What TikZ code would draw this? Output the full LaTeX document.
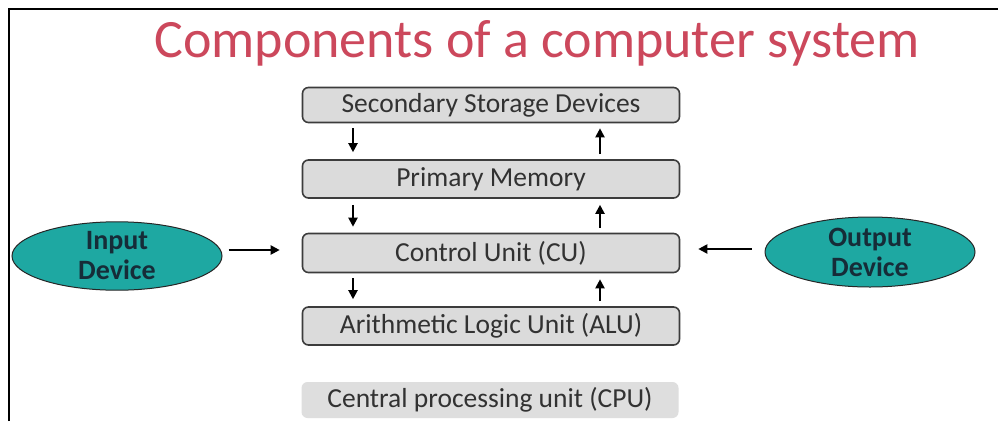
\documentclass[tikz,border=0pt]{standalone}
\usepackage{fontspec}
\setmainfont{Carlito}
\usetikzlibrary{shapes.geometric,arrows.meta,calc}
\definecolor{titlered}{RGB}{204,72,92}
\definecolor{boxfill}{RGB}{219,219,219}
\definecolor{boxline}{RGB}{60,60,60}
\definecolor{cpufill}{RGB}{222,222,222}
\definecolor{tealfill}{RGB}{30,168,162}
\definecolor{tealtext}{RGB}{22,44,56}
\definecolor{textgray}{RGB}{50,50,50}
\tikzset{
  unitbox/.style={draw=boxline, line width=1.6pt, fill=boxfill, rounded corners=6pt,
    minimum width=377pt, inner sep=0pt, text=textgray, font=\fontsize{27.5}{28}\selectfont},
  device/.style={ellipse, draw=black!85, line width=1pt, fill=tealfill, inner sep=0pt,
    text=tealtext, font=\fontsize{28}{30}\selectfont\bfseries, align=center},
  flow/.style={line width=2pt, -{Triangle[length=9pt,width=9pt]}}
}
\begin{document}
\begin{tikzpicture}[x=1pt,y=-1pt]
\useasboundingbox (0,0) rectangle (998,421);
\fill[white] (0,0) rectangle (998,421);
% page frame
\draw[line width=2pt] (9,421) -- (9,9) -- (998,9);
% title
\node[text=titlered, font=\fontsize{54}{54}\selectfont] (title) at (537,43) {Components of a computer system};
% unit boxes
\node[unitbox, minimum height=35pt] (ssd) at (491,105) {Secondary Storage Devices};
\node[unitbox, minimum height=38pt] (pm) at (491,179) {Primary Memory};
\node[unitbox, minimum height=39pt] (cu) at (491,253) {Control Unit (CU)};
\node[unitbox, minimum height=38pt] (alu) at (491,326) {Arithmetic Logic Unit (ALU)};
\node[fill=cpufill, rounded corners=6pt, minimum width=377pt, minimum height=36pt, inner sep=0pt,
  text=textgray, font=\fontsize{27.5}{28}\selectfont] (cpu) at (490,400) {Central processing unit (CPU)};
% devices
\node[device, minimum width=210pt, minimum height=62pt] (in) at (117,256) {Input\\Device};
\node[device, minimum width=210pt, minimum height=70pt] (out) at (870,252) {Output\\Device};
% vertical data flow
\draw[flow] ($(ssd.south)+(-138,5)$) -- ($(pm.north)+(-138,-7)$);
\draw[flow] ($(pm.north)+(109,-5)$) -- ($(ssd.south)+(109,5)$);
\draw[flow] ($(pm.south)+(-138,6)$) -- ($(cu.north)+(-138,-6)$);
\draw[flow] ($(cu.north)+(109,-5)$) -- ($(pm.south)+(109,6)$);
\draw[flow] ($(cu.south)+(-138,5)$) -- ($(alu.north)+(-138,-7)$);
\draw[flow] ($(alu.north)+(109,-5)$) -- ($(cu.south)+(109,6)$);
% device links
\draw[flow] ($(in.east)+(6,-6)$) -- ($(cu.west)+(-22,-3)$);
\draw[flow] ($(out.west)+(-13,-3)$) -- ($(cu.east)+(18,-4)$);
\end{tikzpicture}
\end{document}
